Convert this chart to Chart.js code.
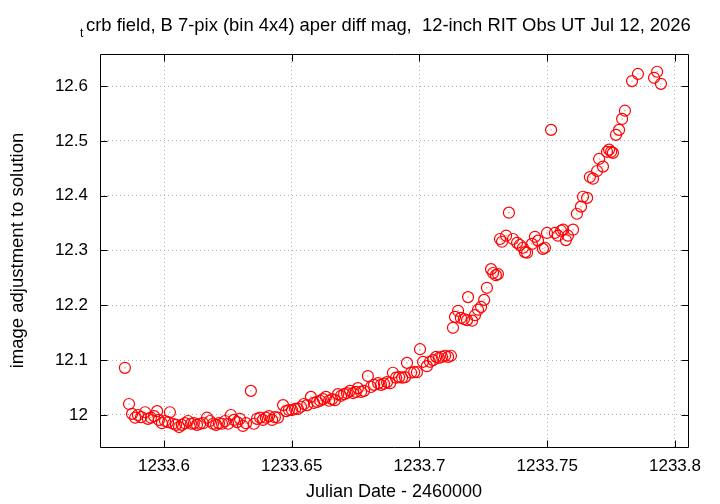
<!DOCTYPE html>
<html>
<head>
<meta charset="utf-8">
<script src="https://cdn.jsdelivr.net/npm/chart.js@4"></script>
<style>
html,body{margin:0;padding:0;background:#fff;}
#wrap{width:720px;height:504px;position:relative;}
</style>
</head>
<body>
<div id="wrap"><canvas id="c" width="720" height="504"></canvas></div>
<script>
// Julian Date - 2460000
const jd = [
1233.5847,1233.5863,1233.5875,1233.5887,1233.5898,1233.5910,1233.5926,1233.5937,1233.5949,1233.5961,
1233.5973,1233.5980,1233.5992,1233.6004,1233.6016,1233.6023,1233.6035,1233.6047,1233.6059,1233.6070,
1233.6082,1233.6094,1233.6106,1233.6117,1233.6129,1233.6141,1233.6153,1233.6168,1233.6180,1233.6192,
1233.6204,1233.6215,1233.6227,1233.6239,1233.6251,1233.6262,1233.6274,1233.6286,1233.6297,1233.6309,
1233.6321,1233.6340,1233.6352,1233.6364,1233.6376,1233.6387,1233.6399,1233.6411,1233.6423,1233.6434,
1233.6446,1233.6466,1233.6478,1233.6489,1233.6501,1233.6513,1233.6524,1233.6536,1233.6548,1233.6560,
1233.6575,1233.6587,1233.6599,1233.6611,1233.6622,1233.6634,1233.6646,1233.6658,1233.6669,1233.6681,
1233.6693,1233.6705,1233.6716,1233.6728,1233.6740,1233.6751,1233.6759,1233.6771,1233.6783,1233.6798,
1233.6810,1233.6822,1233.6838,1233.6849,1233.6861,1233.6873,1233.6885,1233.6896,1233.6908,1233.6920,
1233.6932,1233.6943,1233.6951,1233.6967,1233.6979,1233.6990,1233.7002,1233.7014,1233.7029,1233.7041,
1233.7053,1233.7065,1233.7076,1233.7088,1233.7100,1233.7112,1233.7123,1233.7131,1233.7139,1233.7151,
1233.7162,1233.7174,1233.7186,1233.7190,1233.7206,1233.7217,1233.7229,1233.7241,1233.7253,1233.7264,
1233.7280,1233.7288,1233.7299,1233.7307,1233.7315,1233.7323,1233.7339,1233.7350,1233.7366,1233.7382,
1233.7393,1233.7405,1233.7413,1233.7421,1233.7440,1233.7452,1233.7464,1233.7483,1233.7491,1233.7499,
1233.7515,1233.7530,1233.7542,1233.7554,1233.7562,1233.7573,1233.7581,1233.7601,1233.7616,1233.7632,
1233.7640,1233.7656,1233.7667,1233.7679,1233.7695,1233.7703,1233.7718,1233.7734,1233.7742,1233.7750,
1233.7757,1233.7769,1233.7781,1233.7793,1233.7804,1233.7832,1233.7855,1233.7918,1233.7930,1233.7945
];
// image adjustment to solution
const mag = [
12.086,12.020,12.002,11.995,12.000,11.996,12.005,11.993,11.995,11.998,
12.007,11.991,11.985,11.989,11.987,12.005,11.984,11.982,11.978,11.982,
11.985,11.989,11.984,11.985,11.982,11.984,11.985,11.995,11.989,11.984,
11.982,11.985,11.984,11.989,11.984,12.000,11.991,11.987,11.993,11.980,
11.985,12.044,11.984,11.993,11.995,11.991,11.995,11.998,11.991,11.996,
11.995,12.018,12.007,12.009,12.009,12.011,12.011,12.015,12.020,12.018,
12.033,12.022,12.024,12.026,12.029,12.033,12.026,12.029,12.027,12.038,
12.035,12.038,12.040,12.044,12.040,12.042,12.049,12.042,12.044,12.071,
12.051,12.055,12.058,12.055,12.057,12.060,12.058,12.077,12.068,12.069,
12.068,12.069,12.095,12.077,12.078,12.078,12.120,12.097,12.089,12.097,
12.100,12.106,12.104,12.106,12.108,12.106,12.108,12.159,12.179,12.190,
12.177,12.175,12.173,12.215,12.172,12.182,12.192,12.197,12.210,12.232,
12.266,12.259,12.255,12.257,12.321,12.316,12.327,12.369,12.321,12.314,
12.310,12.305,12.297,12.296,12.312,12.325,12.318,12.303,12.305,12.332,
12.520,12.332,12.327,12.336,12.338,12.319,12.327,12.338,12.367,12.380,
12.398,12.396,12.434,12.431,12.445,12.467,12.453,12.480,12.484,12.480,
12.478,12.511,12.520,12.540,12.555,12.609,12.622,12.615,12.626,12.604
];
const xTicks = [1233.6, 1233.65, 1233.7, 1233.75, 1233.8];
const xTickLabels = ['1233.6', '1233.65', '1233.7', '1233.75', '1233.8'];
const yTicks = [12, 12.1, 12.2, 12.3, 12.4, 12.5, 12.6];
const yTickLabels = ['12', '12.1', '12.2', '12.3', '12.4', '12.5', '12.6'];
const titleSub = 't';
const titleMain = 'crb field, B 7-pix (bin 4x4) aper diff mag,  12-inch RIT Obs UT Jul 12, 2026';
const xTitle = 'Julian Date - 2460000';
const yTitle = 'image adjustment to solution';

const FONT = '"Liberation Sans", Arial, sans-serif';
const points = jd.map((x, i) => ({x: x, y: mag[i]}));

const framePlugin = {
  id: 'frame',
  afterDraw(chart) {
    const ctx = chart.ctx;
    const a = chart.chartArea;
    const xs = chart.scales.x, ys = chart.scales.y;
    ctx.save();
    ctx.strokeStyle = '#000';
    ctx.lineWidth = 1;
    ctx.beginPath();
    const L = Math.round(a.left) + 0.5, R = Math.round(a.right) + 0.5;
    const T = Math.round(a.top) + 0.5, B = Math.round(a.bottom) + 0.5;
    ctx.rect(L, T, R - L, B - T);
    const tl = 7;
    xTicks.forEach(v => {
      const p = Math.round(xs.getPixelForValue(v)) + 0.5;
      ctx.moveTo(p, B); ctx.lineTo(p, B - tl);
      ctx.moveTo(p, T); ctx.lineTo(p, T + tl);
    });
    yTicks.forEach(v => {
      const p = Math.round(ys.getPixelForValue(v)) + 0.5;
      ctx.moveTo(L, p); ctx.lineTo(L + tl, p);
      ctx.moveTo(R, p); ctx.lineTo(R - tl, p);
    });
    ctx.stroke();
    // title
    ctx.fillStyle = '#000';
    ctx.textBaseline = 'alphabetic';
    ctx.textAlign = 'left';
    ctx.font = '12px ' + FONT;
    ctx.fillText(titleSub, 80, 37);
    ctx.font = '18.4px ' + FONT;
    ctx.fillText(titleMain, 86, 31);
    ctx.restore();
  }
};

new Chart(document.getElementById('c'), {
  type: 'scatter',
  data: {
    datasets: [{
      data: points,
      showLine: false,
      pointStyle: 'circle',
      pointRadius: 5.5,
      pointHoverRadius: 5.5,
      borderColor: '#ff0000',
      backgroundColor: 'rgba(0,0,0,0)',
      borderWidth: 1.2
    }, {
      data: points,
      showLine: false,
      pointStyle: 'circle',
      pointRadius: 0.6,
      pointHoverRadius: 0.6,
      borderWidth: 0,
      backgroundColor: 'rgba(255,0,0,0.7)'
    }]
  },
  options: {
    responsive: false,
    animation: false,
    events: [],
    layout: {padding: {left: 0, right: 32, top: 54, bottom: 0}},
    plugins: {legend: {display: false}, tooltip: {enabled: false}, title: {display: false}},
    scales: {
      x: {
        type: 'linear',
        min: 1233.57495,
        max: 1233.80509,
        afterBuildTicks: s => { s.ticks = xTicks.map(v => ({value: v})); },
        afterFit: s => { s.height = 57; },
        grid: {color: '#b0b0b0', lineWidth: 1, drawTicks: false},
        border: {display: false, dash: [1, 3]},
        ticks: {
          color: '#000', padding: 9, maxRotation: 0, autoSkip: false,
          font: {family: FONT, size: 17},
          callback: (v, i) => xTickLabels[i]
        },
        title: {display: true, text: xTitle, color: '#000', font: {family: FONT, size: 18}, padding: {top: 0, bottom: 1}}
      },
      y: {
        type: 'linear',
        min: 11.9416,
        max: 12.6584,
        afterBuildTicks: s => { s.ticks = yTicks.map(v => ({value: v})); },
        afterFit: s => { s.width = 100; },
        grid: {color: '#b0b0b0', lineWidth: 1, drawTicks: false},
        border: {display: false, dash: [1, 3]},
        ticks: {
          color: '#000', padding: 12, autoSkip: false,
          font: {family: FONT, size: 17},
          callback: (v, i) => yTickLabels[i]
        },
        title: {display: true, text: yTitle, color: '#000', font: {family: FONT, size: 18.5}, padding: {top: 7, bottom: 0}}
      }
    }
  },
  plugins: [framePlugin]
});
</script>
</body>
</html>
